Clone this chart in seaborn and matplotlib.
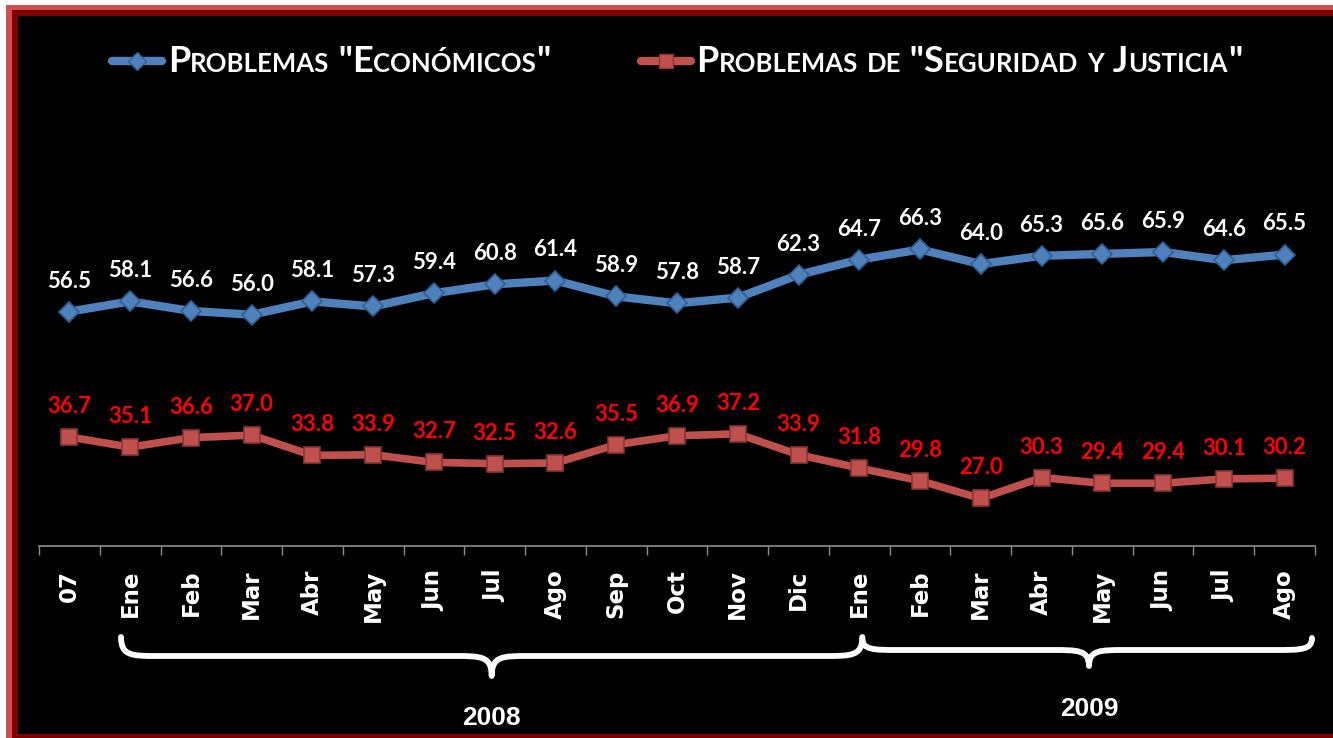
import numpy as np
import pandas as pd
import seaborn as sns
import matplotlib
matplotlib.use("Agg")
import matplotlib.pyplot as plt
import matplotlib.transforms as mtransforms
from matplotlib.lines import Line2D
from matplotlib.path import Path
from matplotlib.patches import PathPatch, Rectangle
from matplotlib.offsetbox import TextArea, DrawingArea, HPacker, AnchoredOffsetbox

# datos
meses = ['07', 'Ene', 'Feb', 'Mar', 'Abr', 'May', 'Jun', 'Jul', 'Ago', 'Sep', 'Oct',
         'Nov', 'Dic', 'Ene', 'Feb', 'Mar', 'Abr', 'May', 'Jun', 'Jul', 'Ago']
economicos = [56.5, 58.1, 56.6, 56.0, 58.1, 57.3, 59.4, 60.8, 61.4, 58.9, 57.8,
              58.7, 62.3, 64.7, 66.3, 64.0, 65.3, 65.6, 65.9, 64.6, 65.5]
seguridad = [36.7, 35.1, 36.6, 37.0, 33.8, 33.9, 32.7, 32.5, 32.6, 35.5, 36.9,
             37.2, 33.9, 31.8, 29.8, 27.0, 30.3, 29.4, 29.4, 30.1, 30.2]
series = ['Problemas "Económicos"', 'Problemas de "Seguridad y Justicia"']
anios = ['2008', '2009']

azul = '#4f81bd'
rojo = '#c0504d'
W, H = 1333, 738

n = len(meses)
df = pd.DataFrame({
    'idx': list(range(n)) * 2,
    'valor': economicos + seguridad,
    'serie': [series[0]] * n + [series[1]] * n,
})

sns.set_style("white")
plt.rcParams['font.family'] = ['DejaVu Sans']

fig = plt.figure(figsize=(W / 100, H / 100), dpi=100, facecolor='black')
ax = fig.add_axes([39 / W, 1 - 546 / H, (1315 - 39) / W, (546 - 150) / H])
ax.set_facecolor('black')

sns.lineplot(data=df, x='idx', y='valor', hue='serie', style='serie',
             palette=[azul, rojo], markers=['D', 's'], dashes=False,
             linewidth=6, legend=False, ax=ax)
for ln, mec, ms in zip(ax.lines, ['#2f5f95', '#8c3533'], [10.5, 12]):
    ln.set_markeredgecolor(mec)
    ln.set_markeredgewidth(1.2)
    ln.set_markersize(ms)
ax.lines[1].set_linewidth(5.5)

# etiquetas de valores
for i, v in enumerate(economicos):
    ax.annotate(f'{v:.1f}', (i, v), xytext=(0, 22), textcoords='offset points',
                ha='center', va='center', color='white', fontsize=16,
                fontweight='bold', family='Lato')
for i, v in enumerate(seguridad):
    ax.annotate(f'{v:.1f}', (i, v), xytext=(0, 22), textcoords='offset points',
                ha='center', va='center', color='#ff0000', fontsize=16,
                fontweight='bold', family='Lato')

ax.set_xlim(-0.5, n - 0.5)
ax.set_ylim(19.5, 82)
ax.set_xlabel('')
ax.set_ylabel('')
ax.set_yticks([])
ax.set_xticks(range(n))
ax.set_xticklabels(meses, rotation=90, color='white', fontsize=16.5, fontweight='bold')
ax.set_xticks(np.arange(-0.5, n, 1), minor=True)
ax.tick_params(axis='x', which='major', length=0, pad=17)
ax.tick_params(axis='x', which='minor', length=6.5, width=1, color='#8c8c8c',
               direction='out', bottom=True)
for s in ['top', 'left', 'right']:
    ax.spines[s].set_visible(False)
ax.spines['bottom'].set_color('#8c8c8c')
ax.spines['bottom'].set_linewidth(1.2)


# llaves de los años
def llave(x0, x1, xm, ye, ym, yt, w=0.6):
    tr = mtransforms.blended_transform_factory(ax.transData, fig.transFigure)
    f = lambda y: 1 - y / H
    verts = [(x0, f(ye)),
             (x0, f(ym)), (x0 + w * 0.3, f(ym)), (x0 + w, f(ym)),
             (xm - w, f(ym)),
             (xm - w * 0.3, f(ym)), (xm, f(ym)), (xm, f(yt)),
             (xm, f(ym)), (xm + w * 0.3, f(ym)), (xm + w, f(ym)),
             (x1 - w, f(ym)),
             (x1 - w * 0.3, f(ym)), (x1, f(ym)), (x1, f(ye))]
    codes = [Path.MOVETO, Path.CURVE4, Path.CURVE4, Path.CURVE4, Path.LINETO,
             Path.CURVE4, Path.CURVE4, Path.CURVE4, Path.CURVE4, Path.CURVE4,
             Path.CURVE4, Path.LINETO, Path.CURVE4, Path.CURVE4, Path.CURVE4]
    fig.add_artist(PathPatch(Path(verts, codes), transform=tr, facecolor='none',
                             edgecolor='white', lw=4.2, capstyle='round',
                             joinstyle='round', clip_on=False))


llave(0.85, 13.05, 6.95, 637, 656, 676)
llave(13.05, 20.45, 16.78, 638, 650, 666)
tr_anio = mtransforms.blended_transform_factory(ax.transData, fig.transFigure)
for xa, ya, a in [(6.95, 718, anios[0]), (16.78, 709, anios[1])]:
    fig.text(xa, 1 - ya / H, a, transform=tr_anio, ha='center', va='center',
             color='white', fontsize=19, fontweight='bold', family='Liberation Sans')


# leyenda en versalitas
def versalitas(texto, grande=26, chica=18.5):
    grupos = []
    for ch in texto:
        chico = ch.isalpha() and ch.islower()
        if grupos and grupos[-1][1] == chico:
            grupos[-1][0] += ch.upper() if chico else ch
        else:
            grupos.append([ch.upper() if chico else ch, chico])
    hijos = [TextArea(t, textprops=dict(color='white', fontweight='bold', family='Lato',
                                        fontsize=chica if c else grande))
             for t, c in grupos]
    return HPacker(children=hijos, align='baseline', pad=0, sep=0)


def manija(color, mec, marker, ms):
    da = DrawingArea(42, 16, 0, 0)
    da.add_artist(Line2D([3, 39], [8, 8], color=color, lw=6, solid_capstyle='round'))
    da.add_artist(Line2D([21], [8], color=color, marker=marker, ms=ms,
                         markeredgecolor=mec, markeredgewidth=1))
    return da


e1 = HPacker(children=[manija(azul, '#2f5f95', 'D', 9), versalitas(series[0])],
             align='center', pad=0, sep=1)
e2 = HPacker(children=[manija(rojo, '#8c3533', 's', 10), versalitas(series[1])],
             align='center', pad=0, sep=1)
caja = HPacker(children=[e1, e2], align='center', pad=0, sep=62)
fig.add_artist(AnchoredOffsetbox(loc='center', child=caja, pad=0, borderpad=0,
                                 frameon=False, bbox_to_anchor=(675 / W, 1 - 61 / H),
                                 bbox_transform=fig.transFigure))

# marco
for x, y, w, h, c in [(0, 0, 6, H, 'white'), (6, 0, 6, H - 5, '#cd5050'),
                      (12, 0, 6, H - 10, '#800000'),
                      (0, H - 5, W, 5, 'white'), (6, H - 10, W, 5, '#cd5050'),
                      (12, H - 16, W, 6, '#800000'), (12, 0, W, 4, '#800000')]:
    fig.add_artist(Rectangle((x / W, y / H), w / W, h / H, transform=fig.transFigure,
                             facecolor=c, edgecolor='none'))

fig.savefig('out.png', dpi=100, facecolor='black')
